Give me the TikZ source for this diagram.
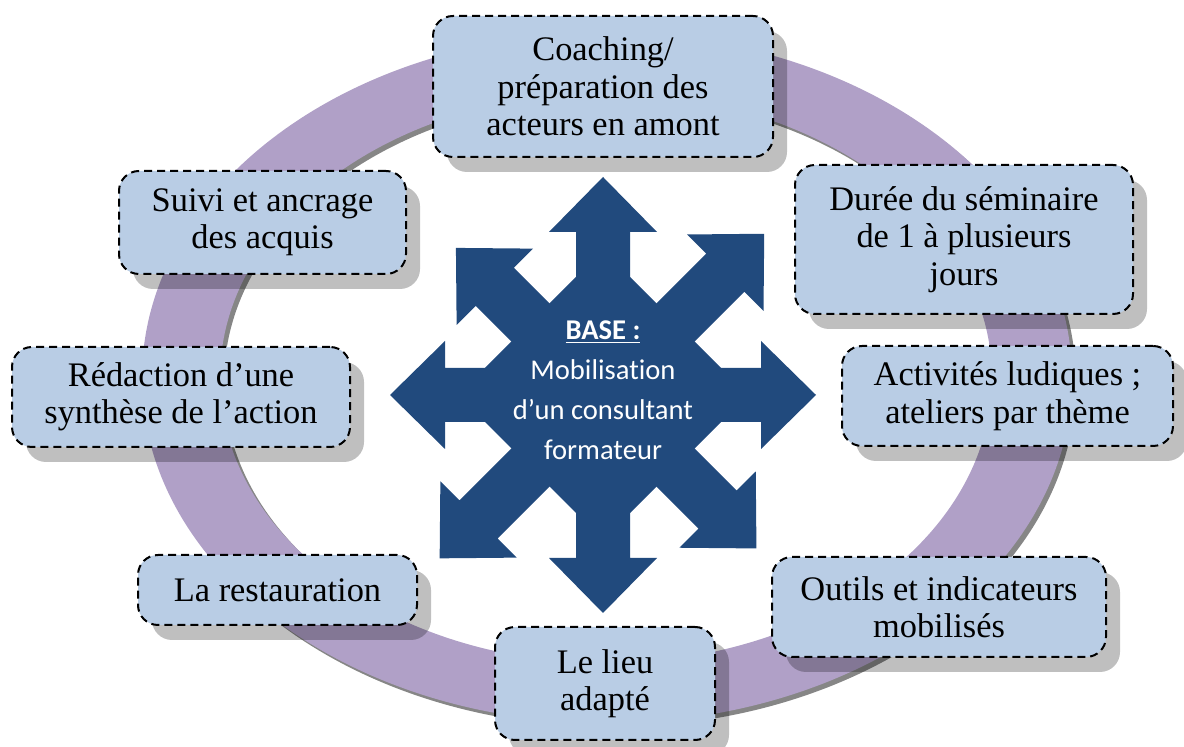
\documentclass[tikz,border=0pt]{standalone}
\usepackage{fontspec}
\setmainfont{Liberation Serif}
\newfontfamily\basefont[Ligatures=NoCommon]{Carlito}
\usetikzlibrary{shadows}
\definecolor{ringpurple}{RGB}{176,160,199}
\definecolor{ringshadow}{RGB}{134,134,134}
\definecolor{boxblue}{RGB}{185,205,229}
\definecolor{starblue}{RGB}{33,74,125}

\begin{document}
\begin{tikzpicture}[x=0.5pt,y=-0.5pt,
            box node/.style={rounded corners=10pt, fill=boxblue, draw=black, line width=1pt,
                dash pattern=on 4pt off 2.5pt, align=center, inner sep=0pt,
                font=\fontsize{17.2}{18.75}\selectfont,
                drop shadow={shadow xshift=7pt, shadow yshift=-7.5pt, opacity=0.25, fill=black}},
            base node/.style={text=white, align=center, font=\basefont\fontsize{14.3}{20}\selectfont},
            ]
            \useasboundingbox (0,0) rectangle (1184,747);

            % ring
            \fill[ringshadow, even odd rule] (611,382) ellipse [x radius=465, y radius=345]
                (610,382) ellipse [x radius=386, y radius=285];
            \fill[ringpurple, even odd rule] (607,378) ellipse [x radius=465, y radius=345]
                (606,378) ellipse [x radius=386, y radius=285];

            % star of arrows
            \begin{scope}[shift={(603,395)}]
                \fill[starblue] (-145,0) -- (0,-145) -- (145,0) -- (0,145) -- cycle;
                \foreach \ang/\len in {0/213,45/228,90/218,135/208,180/213,225/231,270/218,315/217} {
                    \fill[starblue, rotate=\ang] (0,-27) -- (\len-55,-27) -- (\len-55,-54) -- (\len,0)
                        -- (\len-55,54) -- (\len-55,27) -- (0,27) -- cycle;
                }
            \end{scope}
            \node[base node] (base) at (603,390) {\underline{\textbf{BASE :}}\\Mobilisation\\d’un consultant\\formateur};

            % boxes
            \node[box node, minimum width=170pt, minimum height=70.5pt] (coaching) at (603,86.5) {Coaching/\\préparation des\\acteurs en amont};
            \node[box node, minimum width=169pt, minimum height=74.5pt] (duree) at (964,239.5) {Durée du séminaire\\de 1 à plusieurs\\jours};
            \node[box node, minimum width=165.5pt, minimum height=50pt] (activites) at (1007.5,396) {Activités ludiques ;\\ateliers par thème};
            \node[box node, minimum width=167pt, minimum height=50pt] (outils) at (939,607) {Outils et indicateurs\\mobilisés};
            \node[box node, minimum width=110pt, minimum height=56.5pt] (lieu) at (605,683.5) {Le lieu\\adapté};
            \node[box node, minimum width=139.5pt, minimum height=35pt] (restauration) at (277.5,590) {La restauration};
            \node[box node, minimum width=169pt, minimum height=50pt] (redaction) at (181,397) {Rédaction d’une\\synthèse de l’action};
            \node[box node, minimum width=143.5pt, minimum height=51.5pt] (suivi) at (262.5,222.5) {Suivi et ancrage\\des acquis};
        \end{tikzpicture}
\end{document}
